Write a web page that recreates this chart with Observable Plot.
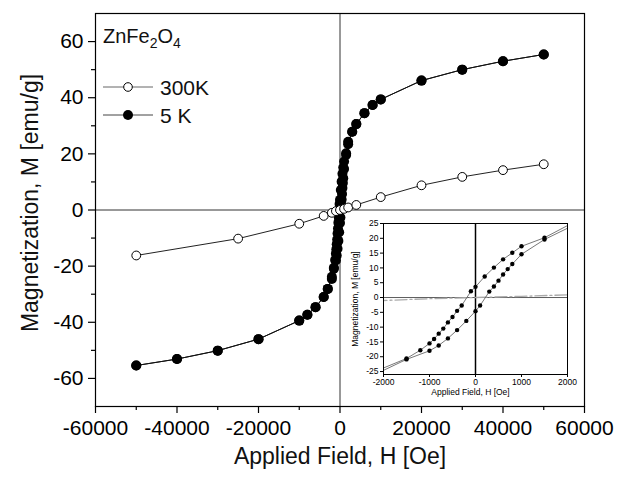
<!DOCTYPE html>
<html><head><meta charset="utf-8">
<script src="https://cdn.jsdelivr.net/npm/d3@7"></script>
<script src="https://cdn.jsdelivr.net/npm/@observablehq/plot@0.6"></script>
<style>
body{margin:0;background:#fff;}
#wrap{position:relative;width:622px;height:478px;}
#wrap > svg, #wrap > figure{position:absolute;margin:0;}
</style></head><body><div id="wrap"></div>
<script>
// ---- Data ----
// 300 K (open circles)
const h300 = [-50000, -25000, -10000, -4000, -2000, -1000, 0, 1000, 2000, 4000, 10000, 20000, 30000, 40000, 50000];
const m300 = [-16.2, -10.2, -4.9, -2.1, -1.0, -0.4, 0, 0.4, 0.9, 1.8, 4.6, 8.8, 11.8, 14.2, 16.3];
// 5 K, high-field points (both branches coincide)
const hFar = [-50000, -40000, -30000, -20000, -10000, -8000, -6000, -4000, -3000, 3000, 4000, 6000, 8000, 10000, 20000, 30000, 40000, 50000];
const mFar = [-55.4, -53.1, -50.1, -46.0, -39.4, -37.3, -34.6, -31.0, -28.1, 27.9, 30.6, 34.5, 37.4, 39.4, 46.1, 50.0, 53.0, 55.4];
// 5 K loop, descending field branch
const hDown = [2000, 1500, 1000, 800, 600, 400, 200, 0, -100, -300, -400, -500, -600, -700, -800, -900, -1000, -1200, -1500, -2000];
const mDown = [24.3, 20.2, 17.3, 15.1, 12.9, 10.1, 7.1, 3.6, 2.1, -2.7, -4.5, -6.6, -8.4, -10.5, -12.2, -14.0, -15.5, -17.8, -20.6, -23.8];
// 5 K loop, ascending field branch
const hUp = [-2000, -1500, -1000, -800, -600, -400, -200, 0, 100, 300, 400, 500, 600, 700, 800, 1000, 1500, 2000];
const mUp = [-24.6, -20.9, -18.0, -16.2, -13.8, -11.0, -7.9, -4.6, -2.7, 2.0, 3.7, 5.7, 7.8, 9.6, 11.3, 14.6, 19.6, 23.4];
// Ticks
const xMajor = [-60000, -40000, -20000, 0, 20000, 40000, 60000];
const xMinor = [-50000, -30000, -10000, 10000, 30000, 50000];
const yMajor = [-60, -40, -20, 0, 20, 40, 60];
const yMinor = [-50, -30, -10, 10, 30, 50];
const insetX = [-2000, -1000, 0, 1000, 2000];
const insetY = [-25, -20, -15, -10, -5, 0, 5, 10, 15, 20, 25];

// ---- Tables ----
const font = '"Liberation Sans", Arial, Helvetica, sans-serif';
const fmt = d => String(d);
const none = () => "";
const rows300 = h300.map((h, i) => ({h, m: m300[i]}));
const farRows = hFar.map((h, i) => ({h, m: mFar[i]}));
const loopDown = hDown.map((h, i) => ({h, m: mDown[i], branch: "down"}));
const loopUp = hUp.map((h, i) => ({h, m: mUp[i], branch: "up"}));
const downRows = [
  ...farRows.filter(d => d.h > 0).sort((a, b) => b.h - a.h),
  ...loopDown,
  ...farRows.filter(d => d.h < 0).sort((a, b) => b.h - a.h)
].map(d => ({...d, branch: "down"}));
const upRows = [
  ...farRows.filter(d => d.h < 0).sort((a, b) => a.h - b.h),
  ...loopUp,
  ...farRows.filter(d => d.h > 0).sort((a, b) => a.h - b.h)
].map(d => ({...d, branch: "up"}));
const rows5 = [...downRows, ...upRows];
const loopRows = [...loopDown, ...loopUp];

const main = Plot.plot({
  width: 622, height: 478,
  marginLeft: 95, marginRight: 38, marginTop: 13, marginBottom: 72,
  style: {fontFamily: font, background: "white", color: "black", overflow: "visible"},
  x: {domain: [-60000, 60000]},
  y: {domain: [-70, 70]},
  marks: [
    Plot.ruleY([0], {stroke: "#333", strokeWidth: 1}),
    Plot.ruleX([0], {stroke: "#333", strokeWidth: 1}),
    Plot.line(rows5, {x: "h", y: "m", z: "branch", stroke: "#111", strokeWidth: 1}),
    Plot.dot(rows5, {x: "h", y: "m", r: 5, fill: "black", stroke: "none"}),
    Plot.line(rows300, {x: "h", y: "m", stroke: "#222", strokeWidth: 1}),
    Plot.dot(rows300, {x: "h", y: "m", r: 4.4, fill: "white", stroke: "black", strokeWidth: 1}),
    Plot.frame({stroke: "black", strokeWidth: 1.2}),
    Plot.axisX({ticks: xMajor, tickSize: 7, tickPadding: 7, fontSize: 21, tickFormat: fmt, label: null, strokeWidth: 1.2}),
    Plot.axisX({ticks: xMinor, tickSize: 4, tickFormat: none, label: null, strokeWidth: 1.2}),
    Plot.axisY({ticks: yMajor, tickSize: 7, tickPadding: 5, fontSize: 21, tickFormat: fmt, label: null, strokeWidth: 1.2}),
    Plot.axisY({ticks: yMinor, tickSize: 4, tickFormat: none, label: null, strokeWidth: 1.2}),
    Plot.text(["Applied Field, H [Oe]"], {text: d => d, frameAnchor: "bottom", textAnchor: "middle", dy: 57, fontSize: 23, fill: "#111"}),
    Plot.text(["Magnetization, M [emu/g]"], {text: d => d, frameAnchor: "left", textAnchor: "middle", dx: -65, dy: -7, rotate: -90, fontSize: 23, fill: "#111"})
  ]
});

const inset = Plot.plot({
  width: 257, height: 195,
  marginLeft: 60, marginRight: 13, marginTop: 10, marginBottom: 34,
  style: {fontFamily: font, background: "transparent", color: "black", overflow: "visible"},
  x: {domain: [-2000, 2000]},
  y: {domain: [-26, 25]},
  marks: [
    Plot.frame({fill: "white"}),
    Plot.ruleY([0], {stroke: "#333", strokeWidth: 0.8}),
    Plot.ruleX([0], {stroke: "black", strokeWidth: 1.5}),
    Plot.line(rows300, {x: "h", y: "m", stroke: "#aaa", strokeWidth: 1.3, strokeDasharray: "12,3,2,3", clip: true}),
    Plot.line(loopRows, {x: "h", y: "m", z: "branch", stroke: "#555", strokeWidth: 0.8, clip: true}),
    Plot.dot(loopRows.filter(d => Math.abs(d.h) < 2000), {x: "h", y: "m", r: 2.2, fill: "black"}),
    Plot.frame({stroke: "black", strokeWidth: 1}),
    Plot.axisX({ticks: insetX, tickSize: 3, tickPadding: 1, fontSize: 8.5, tickFormat: fmt, label: null}),
    Plot.axisY({ticks: insetY, tickSize: 3, tickPadding: 2, fontSize: 8.5, tickFormat: fmt, label: null}),
    Plot.text(["Applied Field, H [Oe]"], {text: d => d, frameAnchor: "bottom", textAnchor: "middle", dx: -5, dy: 20, fontSize: 8.5}),
    Plot.text(["Magnetization, M [emu/g]"], {text: d => d, frameAnchor: "left", textAnchor: "middle", dx: -28, rotate: -90, fontSize: 8.5})
  ]
});

const wrap = document.getElementById("wrap");
main.style.left = "0px"; main.style.top = "0px";
wrap.appendChild(main);
inset.style.left = "323px"; inset.style.top = "213px";
wrap.appendChild(inset);

// Legend (drawn inside the main frame, top-left)
const ns = "http://www.w3.org/2000/svg";
const leg = document.createElementNS(ns, "svg");
leg.setAttribute("width", 622); leg.setAttribute("height", 478);
leg.style.left = "0px"; leg.style.top = "0px"; leg.style.pointerEvents = "none";
leg.innerHTML = `
  <g font-family='${font}' fill='#111'>
    <text x="103" y="43" font-size="20">ZnFe<tspan font-size="14" dy="5">2</tspan><tspan dy="-5">O</tspan><tspan font-size="14" dy="5">4</tspan></text>
    <line x1="103" x2="153" y1="87" y2="87" stroke="#666" stroke-width="1"/>
    <circle cx="128" cy="87" r="4.3" fill="white" stroke="black" stroke-width="1"/>
    <text x="160" y="94.5" font-size="21">300K</text>
    <line x1="103" x2="153" y1="115" y2="115" stroke="#444" stroke-width="1"/>
    <circle cx="128" cy="115" r="5" fill="black"/>
    <text x="160" y="122.5" font-size="21">5 K</text>
  </g>`;
wrap.appendChild(leg);
</script></body></html>
